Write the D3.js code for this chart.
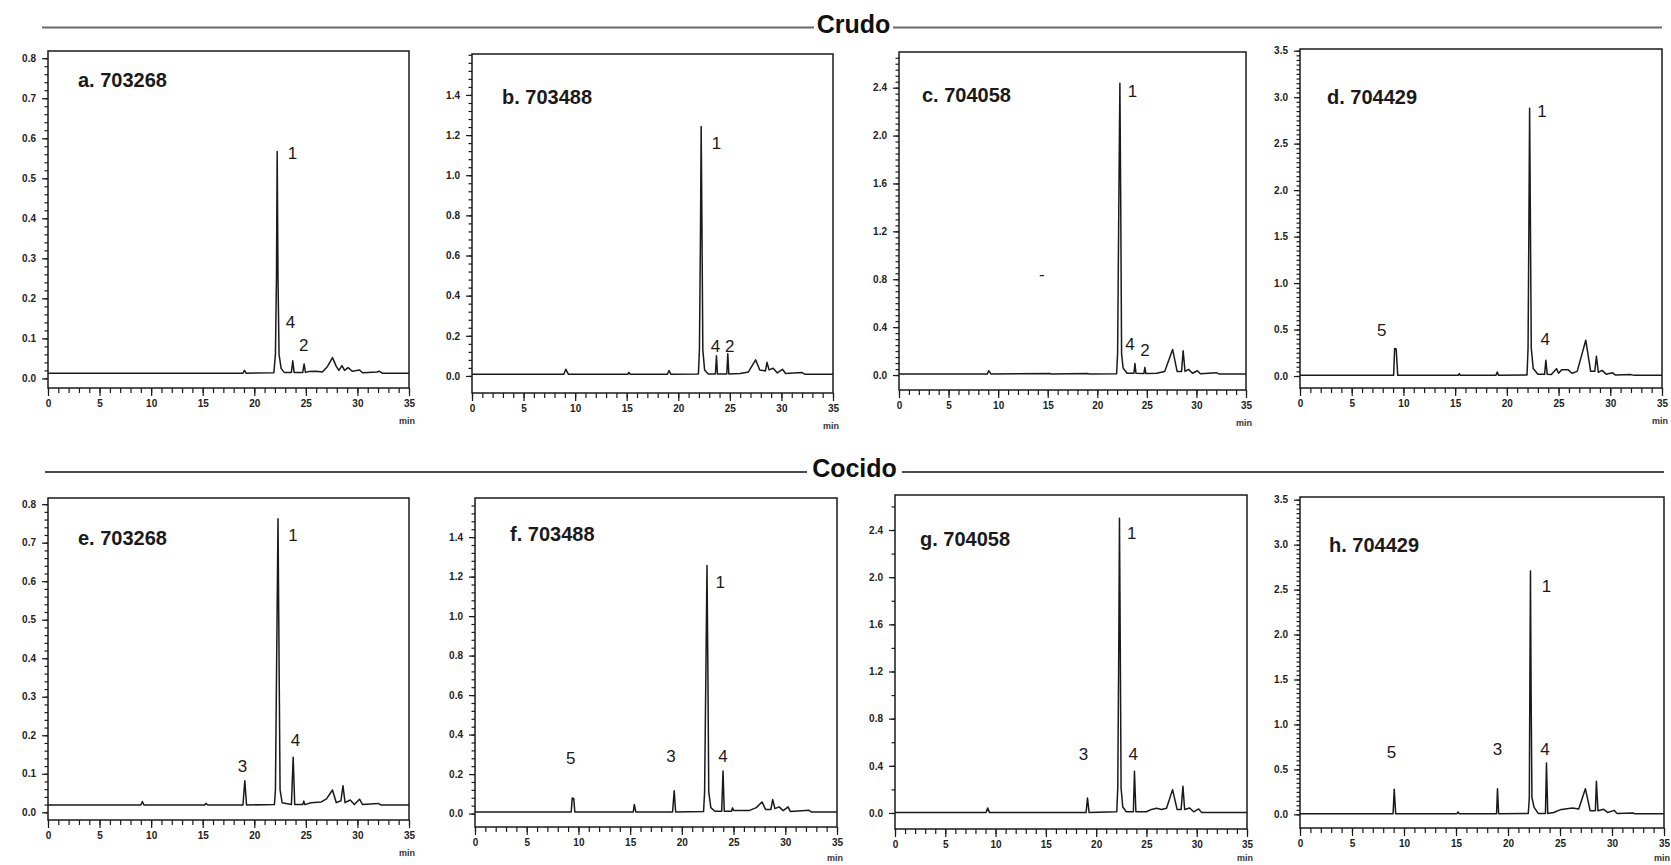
<!DOCTYPE html>
<html lang="es">
  <head>
    <meta charset="utf-8">
    <title>Cromatogramas crudo / cocido</title>
    <script src="https://d3js.org/d3.v7.min.js"></script>
    <style>
      body { margin: 0; background: #fff; }
      svg { display: block; font-family: Arial, "Liberation Sans", sans-serif; }
      .frame { fill: none; stroke: #1a1a1a; stroke-width: 1.5; }
      .tick line { stroke: #1a1a1a; stroke-width: 1.2; }
      .tick text { fill: #222; font-size: 10px; font-weight: bold; }
      .trace { fill: none; stroke: #1a1a1a; stroke-width: 1.5; stroke-linejoin: round; }
      .title { font-size: 20px; font-weight: bold; fill: #1a1a1a; }
      .peak { font-size: 17px; fill: #1a1a1a; text-anchor: middle; }
      .header { font-size: 25px; font-weight: bold; fill: #111; text-anchor: middle; }
    </style>
  </head>
  <body>
    <div id="chart"></div>
    <script>

      // group headers and panel titles
      var headers = ["Crudo", "Cocido"];
      var titles = ["a. 703268", "b. 703488", "c. 704058", "d. 704429",
                    "e. 703268", "f. 703488", "g. 704058", "h. 704429"];

      // x axis (min)
      var xTicks = [0, 5, 10, 15, 20, 25, 30, 35];

      // y axis tick labels per panel
      var yTicksA = [0, 0.1, 0.2, 0.3, 0.4, 0.5, 0.6, 0.7, 0.8];
      var yTicksB = [0, 0.2, 0.4, 0.6, 0.8, 1.0, 1.2, 1.4];
      var yTicksC = [0, 0.4, 0.8, 1.2, 1.6, 2.0, 2.4];
      var yTicksD = [0, 0.5, 1.0, 1.5, 2.0, 2.5, 3.0, 3.5];

      var yDomains = [[-0.024, 0.818], [-0.085, 1.604], [-0.125, 2.698], [-0.129, 3.518],
                      [-0.02, 0.816], [-0.068, 1.598], [-0.136, 2.697], [-0.152, 3.53]];
      var yMinorSteps = [0.02, 0.04, 0.05, 0.05, 0.02, 0.04, 0.2, 0.05];

      // chromatogram traces: [time (min), absorbance]
      var traceA = [[0,0.013],[18.9,0.013],[19.05,0.02],[19.2,0.013],[21.9,0.014],[22.05,0.06],[22.15,0.25],[22.22,0.567],[22.3,0.25],[22.4,0.06],[22.6,0.025],[22.9,0.015],[23.6,0.015],[23.73,0.044],[23.86,0.015],[24.7,0.015],[24.83,0.036],[24.96,0.015],[25.3,0.017],[26.0,0.018],[26.6,0.016],[27.1,0.03],[27.58,0.052],[27.95,0.03],[28.2,0.02],[28.5,0.032],[28.75,0.02],[29.1,0.027],[29.5,0.018],[30.2,0.021],[30.5,0.014],[31.9,0.016],[32.1,0.018],[32.4,0.013],[35,0.013]];
      var traceB = [[0,0.008],[8.9,0.008],[9.1,0.033],[9.35,0.008],[15.1,0.008],[15.2,0.018],[15.35,0.008],[18.95,0.008],[19.1,0.027],[19.3,0.008],[21.95,0.01],[22.05,0.13],[22.15,0.7],[22.22,1.243],[22.3,0.7],[22.38,0.13],[22.55,0.03],[22.9,0.01],[23.6,0.01],[23.7,0.1],[23.8,0.01],[24.7,0.01],[24.8,0.11],[24.9,0.01],[26.0,0.012],[26.8,0.02],[27.5,0.08],[27.9,0.03],[28.45,0.025],[28.6,0.068],[28.8,0.03],[29.2,0.038],[29.6,0.015],[30.1,0.033],[30.4,0.012],[32.0,0.017],[32.3,0.008],[35,0.008]];
      var traceC = [[0,0.008],[8.9,0.008],[9.05,0.036],[9.3,0.008],[15.2,0.012],[15.4,0.008],[19.0,0.012],[19.2,0.008],[21.95,0.01],[22.05,0.18],[22.18,1.5],[22.28,2.436],[22.36,1.5],[22.45,0.18],[22.6,0.06],[23.0,0.015],[23.7,0.015],[23.8,0.097],[23.9,0.015],[24.7,0.012],[24.8,0.064],[24.9,0.012],[26.0,0.015],[26.8,0.03],[27.6,0.214],[28.05,0.03],[28.5,0.03],[28.66,0.203],[28.85,0.03],[29.2,0.047],[29.6,0.015],[30.1,0.036],[30.4,0.01],[32.0,0.02],[32.3,0.008],[35,0.008]];
      var traceD = [[0,0.007],[9.05,0.007],[9.15,0.295],[9.3,0.29],[9.45,0.007],[15.3,0.007],[15.4,0.025],[15.5,0.007],[18.95,0.007],[19.07,0.043],[19.2,0.007],[21.95,0.01],[22.05,0.3],[22.13,1.6],[22.2,2.88],[22.28,1.6],[22.36,0.3],[22.55,0.08],[23.0,0.02],[23.65,0.02],[23.77,0.169],[23.9,0.02],[24.3,0.015],[24.8,0.079],[25.0,0.03],[25.3,0.068],[25.9,0.068],[26.3,0.03],[26.8,0.05],[27.63,0.385],[28.1,0.05],[28.5,0.05],[28.66,0.212],[28.85,0.04],[29.2,0.061],[29.6,0.02],[30.2,0.036],[30.5,0.01],[32,0.015],[32.3,0.007],[35,0.007]];
      var traceE = [[0,0.019],[9.0,0.019],[9.15,0.028],[9.3,0.019],[15.2,0.019],[15.3,0.023],[15.5,0.019],[18.9,0.019],[19.08,0.082],[19.25,0.019],[21.95,0.02],[22.05,0.058],[22.17,0.4],[22.3,0.762],[22.4,0.4],[22.5,0.058],[22.7,0.025],[23.6,0.02],[23.77,0.143],[23.92,0.02],[24.7,0.02],[24.8,0.029],[24.9,0.02],[25.5,0.025],[26.5,0.027],[27.0,0.035],[27.58,0.058],[27.95,0.025],[28.4,0.03],[28.6,0.069],[28.8,0.025],[29.3,0.032],[29.7,0.02],[30.2,0.034],[30.5,0.02],[32,0.023],[32.3,0.019],[35,0.019]];
      var traceF = [[0,0.008],[9.3,0.008],[9.4,0.079],[9.55,0.075],[9.65,0.008],[15.3,0.008],[15.4,0.046],[15.55,0.008],[19.1,0.008],[19.26,0.115],[19.4,0.008],[22.1,0.01],[22.2,0.11],[22.32,0.7],[22.43,1.256],[22.52,0.7],[22.6,0.11],[22.8,0.03],[23.2,0.012],[23.85,0.012],[23.98,0.216],[24.1,0.012],[24.8,0.012],[24.9,0.029],[25.0,0.015],[26.5,0.015],[27.2,0.03],[27.75,0.059],[28.1,0.02],[28.6,0.02],[28.78,0.071],[29.0,0.025],[29.4,0.034],[29.8,0.015],[30.27,0.034],[30.5,0.01],[32.3,0.017],[32.5,0.008],[35,0.008]];
      var traceG = [[0,0.003],[9.05,0.003],[9.22,0.042],[9.4,0.003],[19.0,0.003],[19.14,0.127],[19.3,0.003],[22.05,0.01],[22.15,0.21],[22.25,1.4],[22.32,2.499],[22.4,1.4],[22.48,0.21],[22.65,0.05],[23.0,0.01],[23.7,0.01],[23.81,0.353],[23.95,0.01],[25.0,0.01],[25.5,0.03],[26.0,0.04],[26.5,0.03],[27.0,0.04],[27.6,0.198],[28.05,0.03],[28.45,0.03],[28.63,0.226],[28.8,0.03],[29.3,0.042],[29.7,0.01],[30.2,0.034],[30.5,0.003],[35,0.003]];
      var traceH = [[0,0.007],[8.95,0.007],[9.06,0.278],[9.2,0.007],[15.1,0.007],[15.2,0.026],[15.3,0.007],[18.9,0.007],[18.99,0.285],[19.1,0.007],[21.95,0.01],[22.05,0.19],[22.1,1.4],[22.16,2.707],[22.22,1.4],[22.3,0.19],[22.5,0.08],[22.9,0.01],[23.6,0.01],[23.7,0.571],[23.82,0.01],[24.4,0.02],[25.0,0.05],[25.5,0.06],[26.2,0.07],[26.8,0.06],[27.44,0.285],[27.9,0.04],[28.4,0.04],[28.5,0.367],[28.65,0.04],[29.2,0.056],[29.6,0.02],[30.2,0.044],[30.5,0.01],[32,0.015],[32.2,0.007],[35,0.007]];

      // peak numbers: [label, time, absorbance]
      var labelsA = [["1",23.7,0.548],["4",23.5,0.125],["2",24.8,0.068]];
      var labelsB = [["1",23.7,1.13],["4",23.6,0.121],["2",25.0,0.121]];
      var labelsC = [["1",23.55,2.325],["4",23.3,0.209],["2",24.8,0.159],["-",14.4,0.79]];
      var labelsD = [["5",7.9,0.431],["1",23.4,2.785],["4",23.7,0.338]];
      var labelsE = [["3",18.85,0.104],["1",23.76,0.705],["4",24.0,0.171]];
      var labelsF = [["5",9.26,0.25],["3",18.94,0.259],["1",23.7,1.141],["4",23.98,0.259]];
      var labelsG = [["3",18.74,0.452],["1",23.55,2.32],["4",23.7,0.452]];
      var labelsH = [["5",8.8,0.63],["3",18.99,0.656],["1",23.7,2.473],["4",23.55,0.656]];

      var traces = [traceA, traceB, traceC, traceD, traceE, traceF, traceG, traceH];
      var peakLabels = [labelsA, labelsB, labelsC, labelsD, labelsE, labelsF, labelsG, labelsH];
      var yTicks = [yTicksA, yTicksB, yTicksC, yTicksD, yTicksA, yTicksB, yTicksC, yTicksD];

      // layout
      var width = 1671, height = 865;
      var boxes = [
        {x0: 48, y0: 51, x1: 409, y1: 388},
        {x0: 472, y0: 54, x1: 833, y1: 393},
        {x0: 899, y0: 52, x1: 1246, y1: 390},
        {x0: 1300, y0: 49, x1: 1662, y1: 388},
        {x0: 48, y0: 498, x1: 409, y1: 820},
        {x0: 475, y0: 498, x1: 837, y1: 827},
        {x0: 895, y0: 495, x1: 1247, y1: 829},
        {x0: 1300, y0: 497, x1: 1664, y1: 828}
      ];
      var titleOffsets = [[30,36],[30,50],[23,50],[27,55],[30,47],[35,43],[25,51],[29,55]];

      var svg = d3.select("#chart")
        .append("svg")
        .attr("width", width)
        .attr("height", height);

      // section separators
      var rules = [
        {y: 27.5, x0: 42, x1: 1662, gap: [814, 893], color: "#6a6a6a", w: 2, text: headers[0], ty: 33},
        {y: 472, x0: 45, x1: 1664, gap: [807, 902], color: "#111", w: 1.6, text: headers[1], ty: 477}
      ];
      rules.forEach(function(r){
        svg.append("line").attr("x1", r.x0).attr("x2", r.gap[0]).attr("y1", r.y).attr("y2", r.y)
          .attr("stroke", r.color).attr("stroke-width", r.w);
        svg.append("line").attr("x1", r.gap[1]).attr("x2", r.x1).attr("y1", r.y).attr("y2", r.y)
          .attr("stroke", r.color).attr("stroke-width", r.w);
        svg.append("text").attr("class", "header")
          .attr("x", (r.gap[0] + r.gap[1]) / 2).attr("y", r.ty).text(r.text);
      });

      boxes.forEach(function(b, i){
        var g = svg.append("g");

        var x = d3.scaleLinear().domain([0, 35]).range([b.x0, b.x1]);
        var y = d3.scaleLinear().domain(yDomains[i]).range([b.y1, b.y0]);

        // minor ticks
        var yMinor = d3.range(0, yDomains[i][1] + 1e-9, yMinorSteps[i]);
        g.append("g")
          .attr("transform", `translate(${b.x0},0)`)
          .call(d3.axisLeft(y).tickValues(yMinor).tickSize(3.5).tickFormat(""))
          .call(function(s){ s.select(".domain").remove(); });
        g.append("g")
          .attr("transform", `translate(0,${b.y1})`)
          .call(d3.axisBottom(x).tickValues(d3.range(0, 36, 1)).tickSize(5).tickFormat(""))
          .call(function(s){ s.select(".domain").remove(); });

        // major ticks
        g.append("g")
          .attr("transform", `translate(${b.x0},0)`)
          .call(d3.axisLeft(y).tickValues(yTicks[i]).tickSize(6).tickPadding(6).tickFormat(d3.format(".1f")))
          .call(function(s){ s.select(".domain").remove(); });
        g.append("g")
          .attr("transform", `translate(0,${b.y1})`)
          .call(d3.axisBottom(x).tickValues(xTicks).tickSize(8).tickPadding(4).tickFormat(d3.format("d")))
          .call(function(s){ s.select(".domain").remove(); });

        g.append("text")
          .attr("x", b.x1 + 6).attr("y", Math.min(b.y1 + 36, 861))
          .attr("text-anchor", "end")
          .attr("font-size", "9px").attr("font-weight", "bold").attr("fill", "#333")
          .text("min");

        // trace
        var line = d3.line()
          .x(function(d){ return x(d[0]); })
          .y(function(d){ return y(d[1]); });
        g.append("path")
          .attr("class", "trace")
          .attr("d", line(traces[i]));

        g.append("rect")
          .attr("class", "frame")
          .attr("x", b.x0).attr("y", b.y0)
          .attr("width", b.x1 - b.x0).attr("height", b.y1 - b.y0);

        g.append("text")
          .attr("class", "title")
          .attr("x", b.x0 + titleOffsets[i][0])
          .attr("y", b.y0 + titleOffsets[i][1])
          .text(titles[i]);

        g.selectAll(".peak")
          .data(peakLabels[i])
          .enter()
          .append("text")
            .attr("class", "peak")
            .attr("x", function(d){ return x(d[1]); })
            .attr("y", function(d){ return y(d[2]); })
            .text(function(d){ return d[0]; });
      });

    </script>
  </body>
</html>
